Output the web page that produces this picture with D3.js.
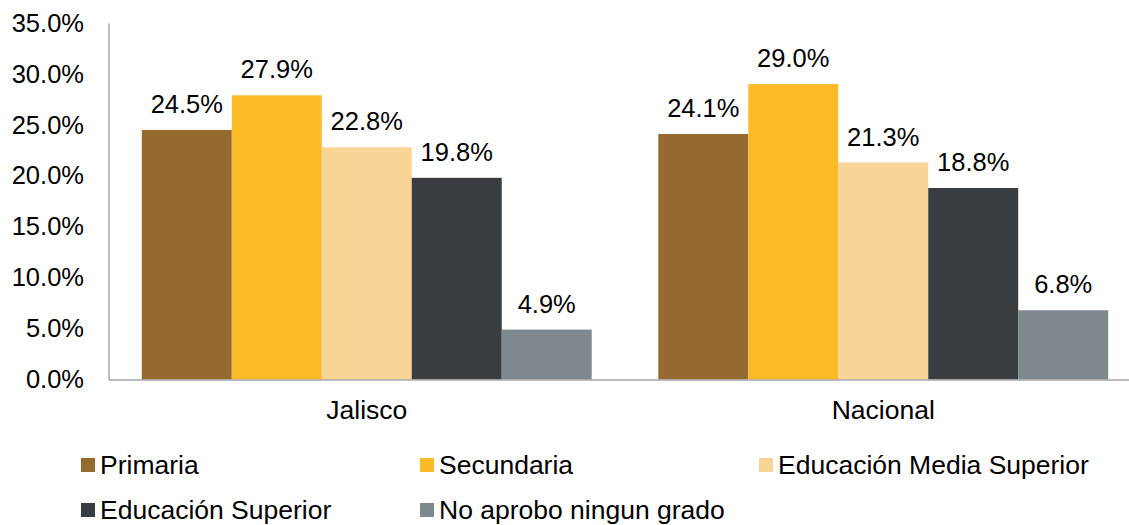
<!DOCTYPE html>
<html>
<head>
<meta charset="utf-8">
<script src="https://cdn.jsdelivr.net/npm/d3@7"></script>
<style>
  body { margin: 0; background: #fff; }
  svg text { font-family: "Liberation Sans", Arial, sans-serif; fill: #000; }
</style>
</head>
<body>
<div id="chart"></div>
<script>
// data
var regions = ["Jalisco", "Nacional"];
var levels = ["Primaria", "Secundaria", "Educación Media Superior", "Educación Superior", "No aprobo ningun grado"];
var jalisco = [24.5, 27.9, 22.8, 19.8, 4.9];
var nacional = [24.1, 29.0, 21.3, 18.8, 6.8];
var yTicks = [0, 5, 10, 15, 20, 25, 30, 35];

var colors = ["#956a2e", "#fbba26", "#f9d497", "#393d40", "#7e888d"];
var values = { "Jalisco": jalisco, "Nacional": nacional };

var width = 1129, height = 525;
var numSize = 25.5, textSize = 26.5;

var svg = d3.select("#chart").append("svg")
    .attr("width", width)
    .attr("height", height);

// scales
var x0 = d3.scaleBand().domain(regions).range([108.5, 1141.5]);
var pad = 33.3;
var x1 = d3.scaleBand().domain(levels).range([pad, x0.bandwidth() - pad]);
var y = d3.scaleLinear().domain([0, 35]).range([379.5, 23]);

// bars
var groups = svg.append("g").selectAll("g")
    .data(regions)
    .enter().append("g")
    .attr("transform", function (d) { return "translate(" + x0(d) + ",0)"; });

groups.selectAll("rect")
    .data(function (r) { return values[r].map(function (v, i) { return { level: levels[i], v: v, i: i }; }); })
    .enter().append("rect")
    .attr("x", function (d) { return x1(d.level); })
    .attr("y", function (d) { return y(d.v); })
    .attr("width", x1.bandwidth())
    .attr("height", function (d) { return y(0) - y(d.v); })
    .attr("fill", function (d) { return colors[d.i]; });

// value labels
groups.selectAll("text.val")
    .data(function (r) { return values[r].map(function (v, i) { return { level: levels[i], v: v }; }); })
    .enter().append("text")
    .attr("class", "val")
    .attr("x", function (d) { return x1(d.level) + x1.bandwidth() / 2; })
    .attr("y", function (d) { return y(d.v) - 17; })
    .attr("text-anchor", "middle")
    .style("font-size", numSize + "px")
    .text(function (d) { return d.v.toFixed(1) + "%"; });

// y axis
var yAxis = svg.append("g")
    .attr("transform", "translate(108.5,0)")
    .call(d3.axisLeft(y).tickValues(yTicks).tickSize(0).tickPadding(24.5)
        .tickFormat(function (d) { return d.toFixed(1) + "%"; }));
yAxis.select(".domain").attr("stroke", "#a6a6a6").attr("stroke-width", 1.5);
yAxis.selectAll("text").style("font-size", numSize + "px").attr("fill", "#000")
    .attr("dy", "0.32em");

// x axis
var xAxis = svg.append("g")
    .attr("transform", "translate(0," + y(0) + ")")
    .call(d3.axisBottom(x0).tickSize(0).tickPadding(21));
xAxis.select(".domain").attr("stroke", "#a6a6a6").attr("stroke-width", 1.5);
xAxis.selectAll("text").style("font-size", textSize + "px").attr("fill", "#000");

// legend
var legX = [81, 420, 759], legY = [458, 503];
var leg = svg.append("g").selectAll("g")
    .data(levels)
    .enter().append("g")
    .attr("transform", function (d, i) {
        return "translate(" + legX[i % 3] + "," + legY[Math.floor(i / 3)] + ")";
    });
leg.append("rect")
    .attr("width", 14).attr("height", 14)
    .attr("fill", function (d, i) { return colors[i]; });
leg.append("text")
    .attr("x", 19)
    .attr("y", 16)
    .style("font-size", textSize + "px")
    .text(function (d) { return d; });
</script>
</body>
</html>
